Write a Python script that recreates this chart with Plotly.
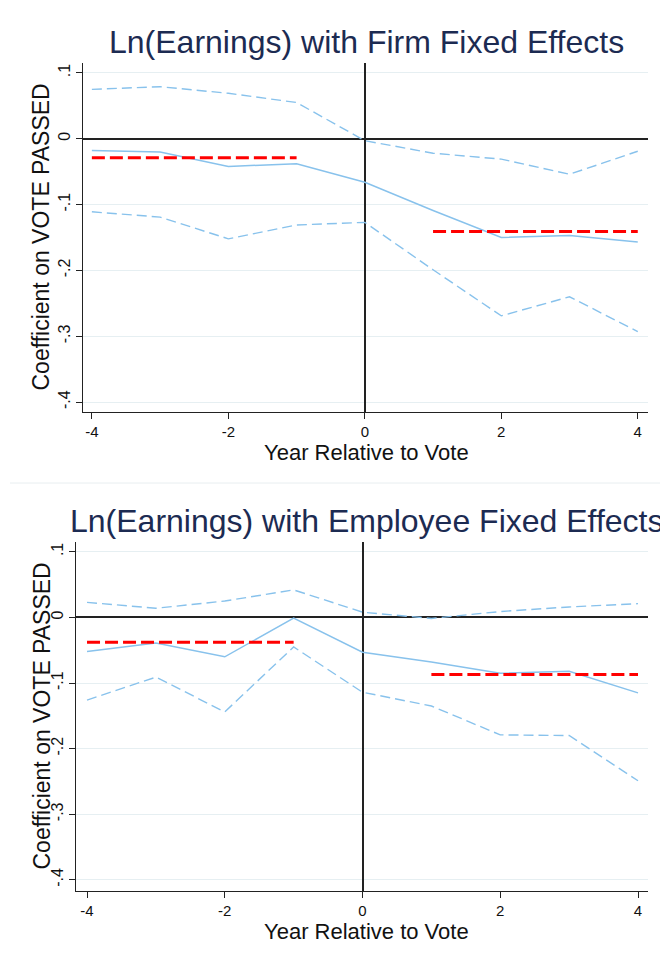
import plotly.graph_objects as go

W, H = 660, 959

years = [-4, -3, -2, -1, 0, 1, 2, 3, 4]

# Panel A: Firm fixed effects
firm_coef = [-0.018, -0.020, -0.042, -0.038, -0.066, -0.109, -0.150, -0.147, -0.157]
firm_upper = [0.075, 0.079, 0.069, 0.055, -0.003, -0.022, -0.031, -0.054, -0.019]
firm_lower = [-0.111, -0.119, -0.152, -0.131, -0.127, -0.199, -0.269, -0.240, -0.293]
firm_pre_mean = -0.029
firm_post_mean = -0.141

# Panel B: Employee fixed effects
emp_coef = [-0.052, -0.039, -0.060, -0.001, -0.053, -0.068, -0.085, -0.082, -0.115]
emp_upper = [0.023, 0.014, 0.025, 0.042, 0.008, -0.0015, 0.009, 0.016, 0.021]
emp_lower = [-0.126, -0.091, -0.144, -0.045, -0.114, -0.135, -0.179, -0.180, -0.249]
emp_pre_mean = -0.038
emp_post_mean = -0.087

pre_years = [-4, -1]
post_years = [1, 4]

y_tickvals = [0.1, 0, -0.1, -0.2, -0.3, -0.4]
y_ticktext = [".1", "0", "-.1", "-.2", "-.3", "-.4"]
x_tickvals = [-4, -2, 0, 2, 4]
x_ticktext = ["-4", "-2", "0", "2", "4"]

titles = ["Ln(Earnings) with Firm Fixed Effects", "Ln(Earnings) with Employee Fixed Effects"]
x_title = "Year Relative to Vote"
y_title = "Coefficient on VOTE PASSED"

BLUE = "#88c2ec"
RED = "#ff0000"
NAVY = "#1c2b52"
FONT = "Liberation Sans"

fig = go.Figure()

panels = [
    dict(coef=firm_coef, up=firm_upper, lo=firm_lower, pre=firm_pre_mean, post=firm_post_mean,
         xa="x", ya="y", px=(83, 648), py=(63, 412), xr=(-4.13, 4.15), yr=(-0.415, 0.115),
         title_y=42, xlab_y=452, ylab_x=41),
    dict(coef=emp_coef, up=emp_upper, lo=emp_lower, pre=emp_pre_mean, post=emp_post_mean,
         xa="x2", ya="y2", px=(76, 648), py=(542, 891), xr=(-4.16, 4.145), yr=(-0.417, 0.115),
         title_y=521, xlab_y=931, ylab_x=41),
]

annotations = []
for i, p in enumerate(panels):
    fig.add_trace(go.Scatter(x=years, y=p["up"], mode="lines", xaxis=p["xa"], yaxis=p["ya"],
                             line=dict(color=BLUE, width=1.4, dash="10px,5px"), showlegend=False))
    fig.add_trace(go.Scatter(x=years, y=p["lo"], mode="lines", xaxis=p["xa"], yaxis=p["ya"],
                             line=dict(color=BLUE, width=1.4, dash="10px,5px"), showlegend=False))
    fig.add_trace(go.Scatter(x=years, y=p["coef"], mode="lines", xaxis=p["xa"], yaxis=p["ya"],
                             line=dict(color=BLUE, width=1.5), showlegend=False))
    fig.add_trace(go.Scatter(x=pre_years, y=[p["pre"], p["pre"]], mode="lines", xaxis=p["xa"], yaxis=p["ya"],
                             line=dict(color=RED, width=3, dash="13px,5px"), showlegend=False))
    fig.add_trace(go.Scatter(x=post_years, y=[p["post"], p["post"]], mode="lines", xaxis=p["xa"], yaxis=p["ya"],
                             line=dict(color=RED, width=3, dash="13px,5px"), showlegend=False))

    axsuffix = "" if i == 0 else "2"
    xdom = [p["px"][0] / W, p["px"][1] / W]
    ydom = [1 - p["py"][1] / H, 1 - p["py"][0] / H]
    fig.layout["xaxis" + axsuffix] = dict(
        domain=xdom, range=list(p["xr"]), anchor="y" + axsuffix,
        tickvals=x_tickvals, ticktext=x_ticktext, ticks="outside", ticklen=6, tickwidth=1,
        tickcolor="#222", showline=True, linecolor="#222", linewidth=1.2, showgrid=False,
        zeroline=True, zerolinecolor="#222", zerolinewidth=1.5,
        tickfont=dict(family=FONT, size=15, color="#111"), mirror=False)
    fig.layout["yaxis" + axsuffix] = dict(
        domain=ydom, range=list(p["yr"]), anchor="x" + axsuffix,
        tickvals=y_tickvals, ticktext=y_ticktext, ticks="outside", ticklen=6, tickwidth=1,
        tickcolor="#222", showline=True, linecolor="#222", linewidth=1.2,
        showgrid=True, gridcolor="#e6eff2", gridwidth=1.2,
        zeroline=True, zerolinecolor="#222", zerolinewidth=1.5, tickangle=-90,
        tickfont=dict(family=FONT, size=16, color="#111"))

    annotations.append(dict(text=titles[i], x=366 / W, y=1 - p["title_y"] / H,
                            xref="paper", yref="paper", showarrow=False, xanchor="center", yanchor="middle",
                            font=dict(family=FONT, size=32, color=NAVY)))
    annotations.append(dict(text=x_title, x=366 / W, y=1 - p["xlab_y"] / H, xref="paper", yref="paper",
                            showarrow=False, xanchor="center", yanchor="middle",
                            font=dict(family=FONT, size=22, color="#111")))
    annotations.append(dict(text=y_title, x=p["ylab_x"] / W, y=1 - (p["py"][0] + p["py"][1]) / 2 / H,
                            xref="paper", yref="paper", showarrow=False, xanchor="center", yanchor="middle",
                            textangle=-90, font=dict(family=FONT, size=23, color="#111")))

shapes = [dict(type="line", xref="paper", yref="paper", x0=10 / W, x1=1, y0=1 - 483 / H, y1=1 - 483 / H,
               line=dict(color="#e8eef0", width=1))]

fig.update_layout(width=W, height=H, margin=dict(l=0, r=0, t=0, b=0),
                  paper_bgcolor="white", plot_bgcolor="white",
                  annotations=annotations, shapes=shapes, showlegend=False)

fig.write_html("out.html")
